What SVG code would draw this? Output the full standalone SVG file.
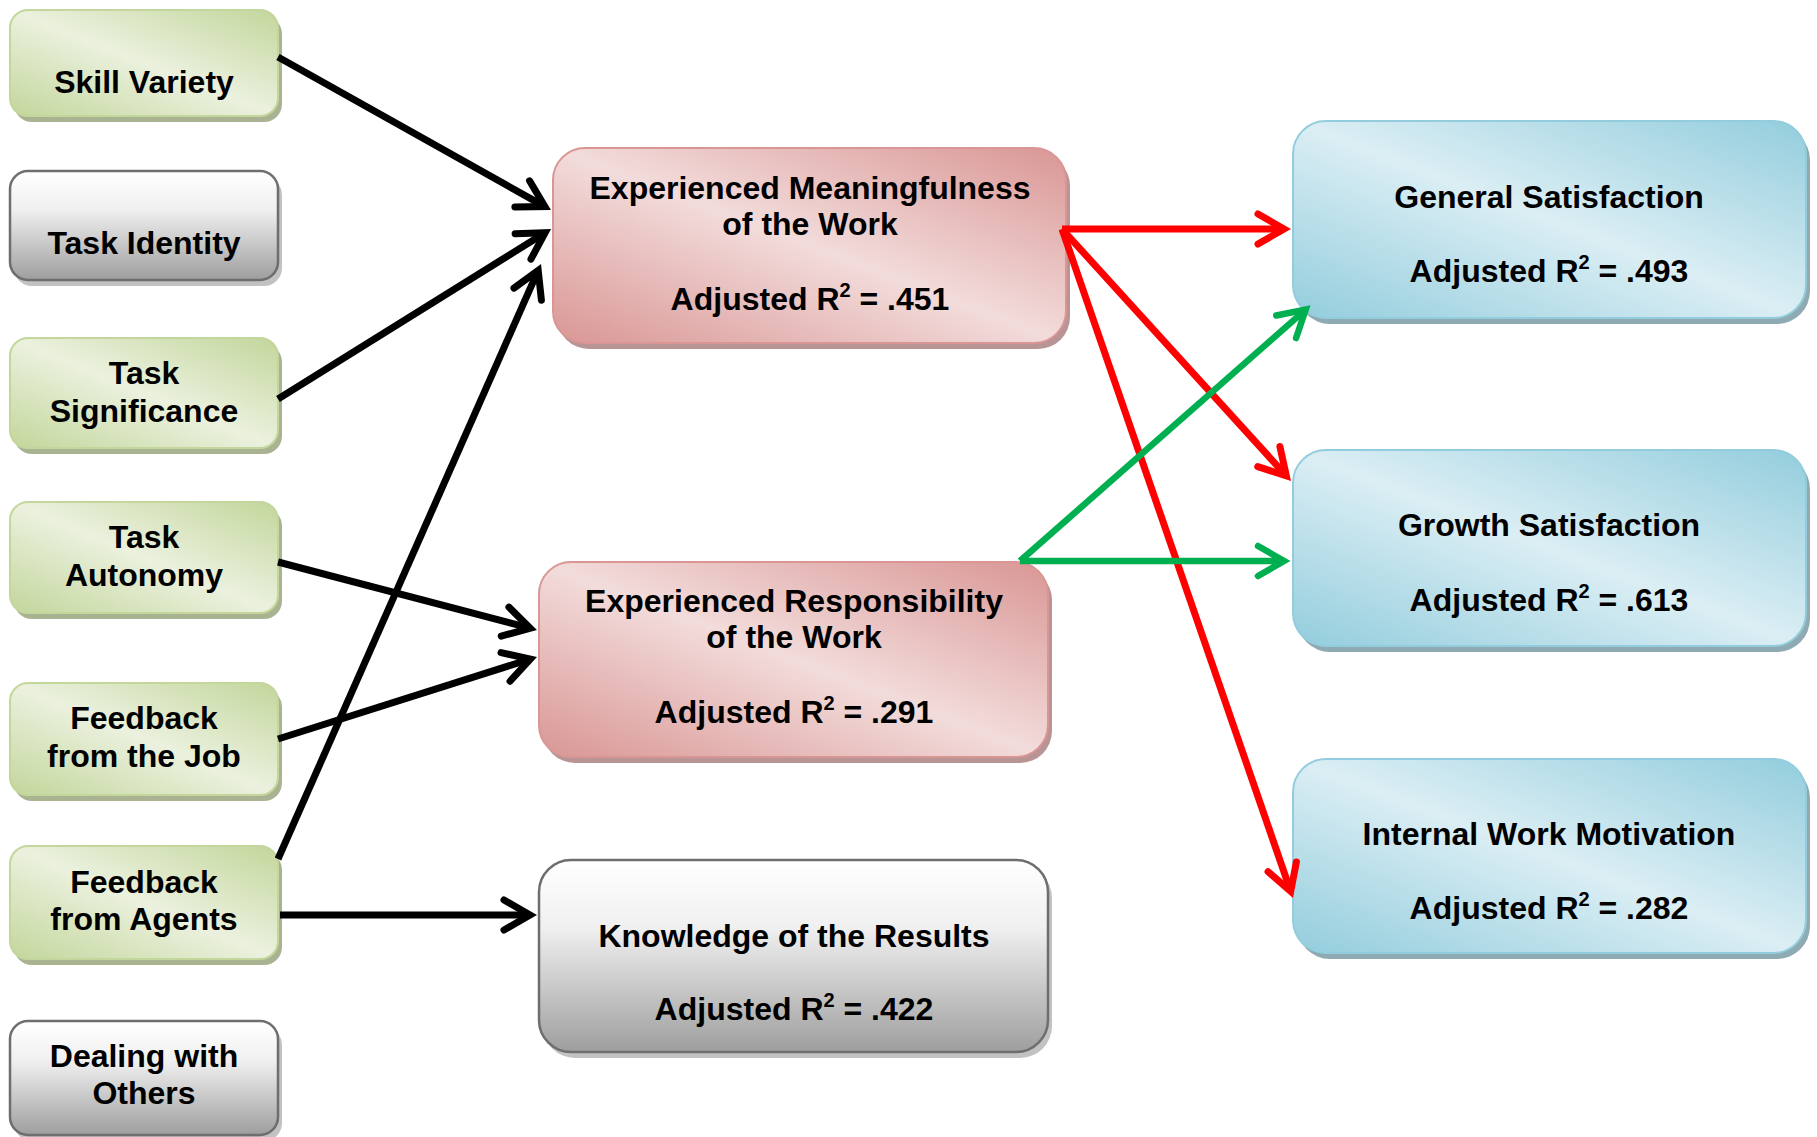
<svg xmlns="http://www.w3.org/2000/svg" width="1817" height="1137" viewBox="0 0 1817 1137">
<style>
.t{font-family:"Liberation Sans",Arial,sans-serif;font-weight:bold;font-size:32px;text-anchor:middle;fill:#000}
.sup{font-size:20px}
.gr .b{fill:url(#gG);stroke:#c3d69b;stroke-width:2}
.gr .s{fill:#a9b391}
.pk .b{fill:url(#gP);stroke:#d99694;stroke-width:2}
.pk .s{fill:#b99494}
.bl .b{fill:url(#gB);stroke:#93cddd;stroke-width:2}
.bl .s{fill:#8eaab2}
.gy .b{fill:url(#gY);stroke:#6e6e6e;stroke-width:2.5}
.gy .s{fill:#c2c2c2}
.c{fill:none;stroke-linecap:butt}
.ck{stroke:#000;stroke-width:7}
.cr{stroke:#ff0000;stroke-width:7}
.cg{stroke:#00b050;stroke-width:6.5}
</style>
<defs>
<linearGradient id="gG" x1="1" y1="0" x2="0" y2="1"><stop offset="0" stop-color="#c3d69b"/><stop offset="0.5" stop-color="#ebf1de"/><stop offset="1" stop-color="#c3d69b"/></linearGradient>
<linearGradient id="gP" x1="1" y1="0" x2="0" y2="1"><stop offset="0" stop-color="#d99694"/><stop offset="0.5" stop-color="#f2dcdb"/><stop offset="1" stop-color="#d99694"/></linearGradient>
<linearGradient id="gB" x1="1" y1="0" x2="0" y2="1"><stop offset="0" stop-color="#93cddd"/><stop offset="0.5" stop-color="#dbeef4"/><stop offset="1" stop-color="#93cddd"/></linearGradient>
<linearGradient id="gY" x1="0" y1="0" x2="0" y2="1"><stop offset="0" stop-color="#ffffff"/><stop offset="0.35" stop-color="#f0f0f0"/><stop offset="1" stop-color="#9e9e9e"/></linearGradient>
<marker id="mk" markerUnits="userSpaceOnUse" orient="auto" refX="0" refY="0" markerWidth="1" markerHeight="1" overflow="visible"><path d="M-26,-15 L0,0 L-26,15" fill="none" stroke="#000" stroke-width="7" stroke-linejoin="miter" stroke-linecap="round"/></marker>
<marker id="mr" markerUnits="userSpaceOnUse" orient="auto" refX="0" refY="0" markerWidth="1" markerHeight="1" overflow="visible"><path d="M-26,-15 L0,0 L-26,15" fill="none" stroke="#ff0000" stroke-width="7" stroke-linejoin="miter" stroke-linecap="round"/></marker>
<marker id="mg" markerUnits="userSpaceOnUse" orient="auto" refX="0" refY="0" markerWidth="1" markerHeight="1" overflow="visible"><path d="M-26,-15 L0,0 L-26,15" fill="none" stroke="#00b050" stroke-width="6.5" stroke-linejoin="miter" stroke-linecap="round"/></marker>
</defs>
<rect width="1817" height="1137" fill="#ffffff"/>

<g id="skill-variety" class="gr">
<rect class="s" x="14" y="16" width="268" height="106" rx="18"/>
<rect class="b" x="10" y="10" width="268" height="106" rx="18"/>
<text class="t" x="144" y="93">Skill Variety</text>
</g>
<g id="task-identity" class="gy">
<rect class="s" x="14" y="177" width="268" height="109" rx="18"/>
<rect class="b" x="10" y="171" width="268" height="109" rx="18"/>
<text class="t" x="144" y="254">Task Identity</text>
</g>
<g id="task-significance" class="gr">
<rect class="s" x="14" y="344" width="268" height="110" rx="18"/>
<rect class="b" x="10" y="338" width="268" height="110" rx="18"/>
<text class="t" x="144" y="384">Task</text>
<text class="t" x="144" y="422">Significance</text>
</g>
<g id="task-autonomy" class="gr">
<rect class="s" x="14" y="508" width="268" height="111" rx="18"/>
<rect class="b" x="10" y="502" width="268" height="111" rx="18"/>
<text class="t" x="144" y="548">Task</text>
<text class="t" x="144" y="586">Autonomy</text>
</g>
<g id="feedback-job" class="gr">
<rect class="s" x="14" y="689" width="268" height="112" rx="18"/>
<rect class="b" x="10" y="683" width="268" height="112" rx="18"/>
<text class="t" x="144" y="729">Feedback</text>
<text class="t" x="144" y="767">from the Job</text>
</g>
<g id="feedback-agents" class="gr">
<rect class="s" x="14" y="852" width="268" height="113" rx="18"/>
<rect class="b" x="10" y="846" width="268" height="113" rx="18"/>
<text class="t" x="144" y="893">Feedback</text>
<text class="t" x="144" y="930">from Agents</text>
</g>
<g id="dealing-others" class="gy">
<rect class="s" x="14" y="1027" width="268" height="114" rx="18"/>
<rect class="b" x="10" y="1021" width="268" height="114" rx="18"/>
<text class="t" x="144" y="1067">Dealing with</text>
<text class="t" x="144" y="1104">Others</text>
</g>

<g id="exp-meaningfulness" class="pk">
<rect class="s" x="557" y="154" width="513" height="195" rx="32"/>
<rect class="b" x="553" y="148" width="513" height="195" rx="32"/>
<text class="t" x="810" y="199">Experienced Meaningfulness</text>
<text class="t" x="810" y="235">of the Work</text>
<text class="t" x="810" y="310">Adjusted R<tspan class="sup" dy="-13">2</tspan><tspan dy="13"> = .451</tspan></text>
</g>
<g id="exp-responsibility" class="pk">
<rect class="s" x="543" y="568" width="509" height="195" rx="32"/>
<rect class="b" x="539" y="562" width="509" height="195" rx="32"/>
<text class="t" x="794" y="612">Experienced Responsibility</text>
<text class="t" x="794" y="648">of the Work</text>
<text class="t" x="794" y="723">Adjusted R<tspan class="sup" dy="-13">2</tspan><tspan dy="13"> = .291</tspan></text>
</g>
<g id="knowledge-results" class="gy">
<rect class="s" x="543" y="866" width="509" height="192" rx="32"/>
<rect class="b" x="539" y="860" width="509" height="192" rx="32"/>
<text class="t" x="794" y="947">Knowledge of the Results</text>
<text class="t" x="794" y="1020">Adjusted R<tspan class="sup" dy="-13">2</tspan><tspan dy="13"> = .422</tspan></text>
</g>

<g id="general-satisfaction" class="bl">
<rect class="s" x="1297" y="127" width="513" height="197" rx="33"/>
<rect class="b" x="1293" y="121" width="513" height="197" rx="33"/>
<text class="t" x="1549" y="208">General Satisfaction</text>
<text class="t" x="1549" y="282">Adjusted R<tspan class="sup" dy="-13">2</tspan><tspan dy="13"> = .493</tspan></text>
</g>
<g id="growth-satisfaction" class="bl">
<rect class="s" x="1297" y="456" width="513" height="196" rx="33"/>
<rect class="b" x="1293" y="450" width="513" height="196" rx="33"/>
<text class="t" x="1549" y="536">Growth Satisfaction</text>
<text class="t" x="1549" y="611">Adjusted R<tspan class="sup" dy="-13">2</tspan><tspan dy="13"> = .613</tspan></text>
</g>
<g id="internal-motivation" class="bl">
<rect class="s" x="1297" y="765" width="513" height="194" rx="33"/>
<rect class="b" x="1293" y="759" width="513" height="194" rx="33"/>
<text class="t" x="1549" y="845">Internal Work Motivation</text>
<text class="t" x="1549" y="919">Adjusted R<tspan class="sup" dy="-13">2</tspan><tspan dy="13"> = .282</tspan></text>
</g>

<g id="connectors">
<path class="c ck" d="M278,57 L544.9,206.6" marker-end="url(#mk)"/>
<path class="c ck" d="M278,399 L545.1,232.7" marker-end="url(#mk)"/>
<path class="c ck" d="M278,859 L538.2,270.4" marker-end="url(#mk)"/>
<path class="c ck" d="M278,562 L530.2,628.2" marker-end="url(#mk)"/>
<path class="c ck" d="M278,739 L530.3,659.1" marker-end="url(#mk)"/>
<path class="c ck" d="M280,915 L530,915" marker-end="url(#mk)"/>
<path class="c cr" d="M1062,229 L1284,229" marker-end="url(#mr)"/>
<path class="c cr" d="M1062,229 L1286.3,475.8" marker-end="url(#mr)"/>
<path class="c cr" d="M1062,229 L1290.7,891.4" marker-end="url(#mr)"/>
<path class="c cg" d="M1020,561 L1305.7,309.6" marker-end="url(#mg)"/>
<path class="c cg" d="M1020,561 L1284,561" marker-end="url(#mg)"/>
</g>
</svg>
